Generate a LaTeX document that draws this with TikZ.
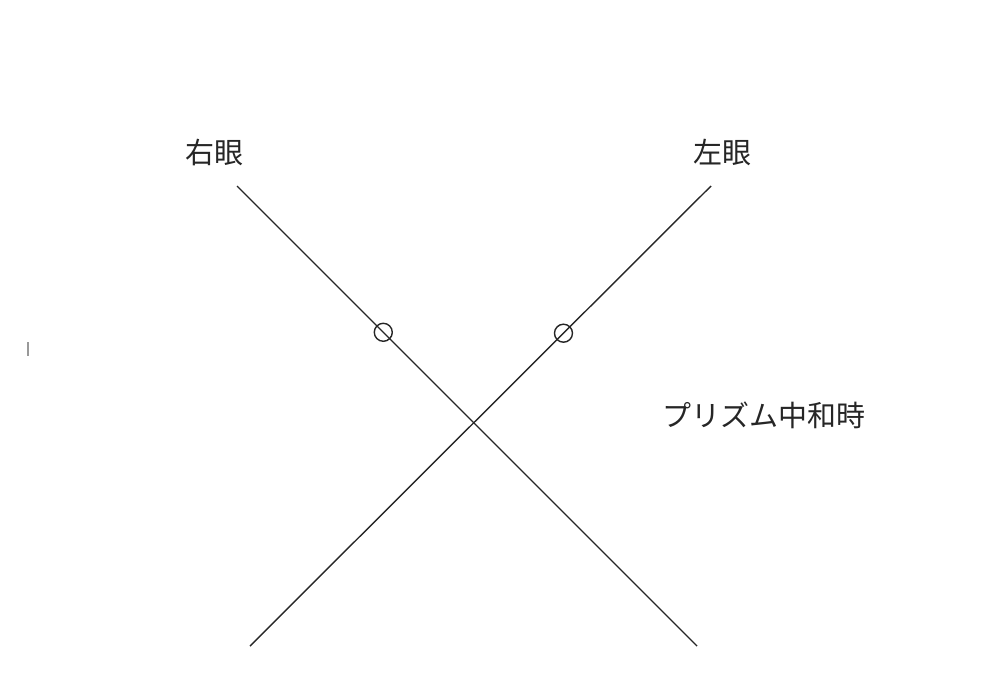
\documentclass[tikz,border=0pt]{standalone}
\usepackage{fontspec}
\newfontfamily\jpfont{Noto Sans CJK JP}
\usetikzlibrary{positioning,shapes}

\begin{document}
\begin{tikzpicture}[x=0.02cm,y=-0.02cm]
	\tikzstyle{label}
	  =[font=\jpfont\fontsize{16.5}{20}\selectfont, text=black!85, inner sep=0pt]
	\tikzstyle{axis}
	  =[draw, line width=0.8pt, black!85]
	\tikzstyle{lens}
	  =[draw, circle, line width=0.8pt, black!85, minimum size=18*0.02cm, inner sep=0pt]

	\useasboundingbox (0,0) rectangle (1000,680);

	\node[label] (right)
	  at (214,152) {右眼};
	\node[label] (left)
	  at (722,152) {左眼};
	\node[label] (prism)
	  at (764,415) {プリズム中和時};

	\coordinate (rtop) at (237,186);
	\coordinate (rbot) at (697,646);
	\coordinate (ltop) at (711,186);
	\coordinate (lbot) at (250,646);

	\draw[axis] (rtop) -- (rbot)
	  node[lens, pos=0.318] (rlens) {};
	\draw[axis] (ltop) -- (lbot)
	  node[lens, pos=0.32] (llens) {};

	% mark at the left edge
	\coordinate (marka) at (28,342);
	\coordinate (markb) at (28,356);
	\draw[line width=0.6pt, black!40] (marka) -- (markb);
\end{tikzpicture}
\end{document}
